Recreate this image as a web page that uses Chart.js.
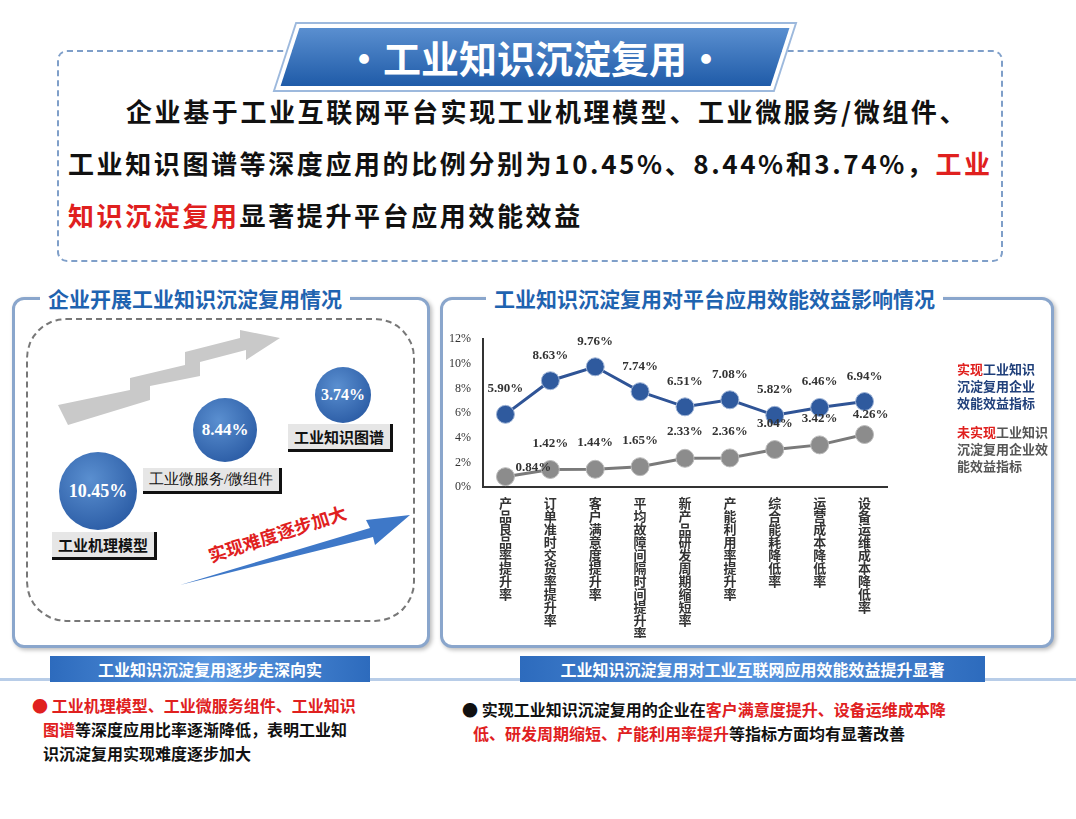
<!DOCTYPE html>
<html><head><meta charset="utf-8">
<script src="https://cdn.jsdelivr.net/npm/chart.js@4/dist/chart.umd.min.js"></script>
<style>
body{margin:0;width:1076px;height:819px;background:#fff;position:relative;overflow:hidden;font-family:"Noto Sans CJK SC",sans-serif;}
.abs{position:absolute;}
.topbox{left:57px;top:50px;width:942px;height:208px;border:2px dashed #7f9fc9;border-radius:10px;}
.banner{left:290px;top:28px;width:490px;height:58px;background:linear-gradient(#5a8fd0,#1f5ba8);transform:skewX(-18deg);box-shadow:0 0 0 4px #fff,0 0 0 6px #9db9dd;}
.bannertxt{left:290px;top:28px;width:490px;height:58px;line-height:58px;text-align:center;color:#fff;font-size:38px;font-weight:bold;}
.para{left:68px;width:930px;font-size:26px;letter-spacing:2.6px;font-weight:bold;color:#111;white-space:nowrap;}
.red{color:#e0201e;}
.panel{border:3px solid #8aa6cc;border-radius:12px;background:#fff;box-shadow:2px 2px 4px #bbb;}
.ptitle{color:#1f63b0;font-size:21px;font-weight:bold;background:#fff;padding:0 8px;}
.circ{border-radius:50%;background:radial-gradient(circle at 40% 35%,#5a8fd0,#1f4f9a);color:#fff;font-family:"Liberation Serif",serif;font-weight:bold;display:flex;align-items:center;justify-content:center;}
.lab{background:#e6e6e6;border-right:3px solid #111;border-bottom:3px solid #111;font-weight:bold;font-size:15px;color:#111;padding:2px 6px;}
.bb{height:26px;line-height:26px;text-align:center;font-size:16px;font-weight:bold;color:#fff;background:linear-gradient(90deg,#2d6bbd,#5a97e0,#2d6bbd);}
.btxt{font-size:16px;font-weight:bold;color:#111;line-height:24px;}
.leg{font-size:13px;line-height:17px;font-weight:bold;}
</style></head><body>
<div class="abs topbox"></div>
<div class="abs banner"></div>
<div class="abs bannertxt">·工业知识沉淀复用·</div>
<div class="abs para" style="top:92px;padding-left:58px">企业基于工业互联网平台实现工业机理模型、工业微服务/微组件、</div>
<div class="abs para" style="top:144px">工业知识图谱等深度应用的比例分别为10.45%、8.44%和3.74%，<span class="red">工业</span></div>
<div class="abs para" style="top:196px"><span class="red">知识沉淀复用</span>显著提升平台应用效能效益</div>

<div class="abs panel" style="left:12px;top:297px;width:412px;height:345px"></div>
<div class="abs ptitle" style="left:40px;top:283px">企业开展工业知识沉淀复用情况</div>
<div class="abs" style="left:26px;top:318px;width:385px;height:300px;border:2px dashed #777;border-radius:40px"></div>
<svg class="abs" style="left:0;top:0" width="440" height="650">
<polygon points="58,405 130,390 130,378 185,365 185,352 240,338 240,330 280,338 246,360 246,350 200,362 200,376 150,386 150,400 68,425" fill="#c9c9c9"/>
<polygon points="180,585 370,528 366,520 410,515 375,545 373,537" fill="#3e78c8"/>
</svg>
<div class="abs" style="left:205px;top:520px;transform:rotate(-18deg);color:#e0201e;font-size:18px;font-weight:bold">实现难度逐步加大</div>
<div id="c1" class="abs circ" style="left:59px;top:452px;width:78px;height:78px;font-size:18px"></div>
<div id="c2" class="abs circ" style="left:193px;top:398px;width:64px;height:64px;font-size:17px"></div>
<div id="c3" class="abs circ" style="left:315px;top:367px;width:56px;height:56px;font-size:16px"></div>
<div id="l1" class="abs lab" style="left:52px;top:532px"></div>
<div id="l2" class="abs lab" style="left:143px;top:468px;font-weight:normal;font-family:'Liberation Serif',serif"></div>
<div id="l3" class="abs lab" style="left:288px;top:424px"></div>

<div class="abs panel" style="left:440px;top:297px;width:608px;height:345px"></div>
<div class="abs ptitle" style="left:486px;top:283px">工业知识沉淀复用对平台应用效能效益影响情况</div>
<div class="abs" style="left:445px;top:328px;width:600px;height:310px"><canvas id="ch"></canvas></div>
<div class="abs leg" style="left:957px;top:360px;color:#1f3f7a"><span class="red">实现</span>工业知识<br>沉淀复用企业<br>效能效益指标</div>
<div class="abs leg" style="left:957px;top:423px;color:#555"><span class="red">未实现</span>工业知识<br>沉淀复用企业效<br>能效益指标</div>

<div class="abs" style="left:0;top:678px;width:1076px;height:3px;background:#b8cde8"></div>
<div class="abs bb" style="left:50px;top:656px;width:320px">工业知识沉淀复用逐步走深向实</div>
<div class="abs bb" style="left:520px;top:656px;width:465px">工业知识沉淀复用对工业互联网应用效能效益提升显著</div>
<div class="abs btxt" style="left:32px;top:693px;width:380px"><span class="red">● 工业机理模型、工业微服务组件、工业知识<br>&nbsp;&nbsp;&nbsp;图谱</span>等深度应用比率逐渐降低，表明工业知<br>&nbsp;&nbsp;&nbsp;识沉淀复用实现难度逐步加大</div>
<div class="abs btxt" style="left:462px;top:697px;width:580px">● 实现工业知识沉淀复用的企业在<span class="red">客户满意度提升、设备运维成本降<br>&nbsp;&nbsp;&nbsp;低、研发周期缩短、产能利用率提升</span>等指标方面均有显著改善</div>

<script>
const appNames=["工业机理模型","工业微服务/微组件","工业知识图谱"];
const appValues=[10.45,8.44,3.74];
const categories=["产品良品率提升率","订单准时交货率提升率","客户满意度提升率","平均故障间隔时间提升率","新产品研发周期缩短率","产能利用率提升率","综合能耗降低率","运营成本降低率","设备运维成本降低率"];
const achieved=[5.90,8.63,9.76,7.74,6.51,7.08,5.82,6.46,6.94];
const notAchieved=[0.84,1.42,1.44,1.65,2.33,2.36,3.04,3.42,4.26];
const yTicks=[0,2,4,6,8,10,12];

["c1","c2","c3"].forEach((id,i)=>document.getElementById(id).textContent=appValues[i].toFixed(2)+"%");
["l1","l2","l3"].forEach((id,i)=>document.getElementById(id).textContent=appNames[i]);

const labelPlugin={id:"lbl",afterDatasetsDraw(chart){
  const ctx=chart.ctx;ctx.save();
  ctx.font="bold 13px 'Liberation Serif',serif";ctx.fillStyle="#333";ctx.textAlign="center";
  const n=chart.data.labels.length;
  chart.data.datasets.forEach((ds,di)=>{
    chart.getDatasetMeta(di).data.forEach((p,i)=>{
      const t=ds.data[i].toFixed(2)+"%";
      if(di===1&&i===0){ctx.textAlign="left";ctx.fillText(t,p.x+10,p.y-6);ctx.textAlign="center";}
      else if(di===1&&i===n-1){ctx.fillText(t,p.x+6,p.y-17);}
      else ctx.fillText(t,p.x,p.y-(di===0?22:23));
    });
  });
  ctx.restore();}};

new Chart(document.getElementById("ch"),{type:"line",
 data:{labels:categories.map(s=>s.split("")),datasets:[
  {data:achieved,borderColor:"#2f5496",backgroundColor:"#2f5a9e",borderWidth:3,pointRadius:9,pointBorderColor:"#9fb4d6",pointBorderWidth:1},
  {data:notAchieved,borderColor:"#7a7a7a",backgroundColor:"#8c8c8c",borderWidth:3,pointRadius:9,pointBorderColor:"#bbb",pointBorderWidth:1}]},
 options:{responsive:true,maintainAspectRatio:false,animation:false,
  layout:{padding:{top:8,right:158,left:0,bottom:0}},
  plugins:{legend:{display:false},tooltip:{enabled:false}},
  scales:{
   x:{offset:true,grid:{display:false,drawTicks:false},border:{color:"#333",width:2},
      ticks:{maxRotation:0,autoSkip:false,padding:10,color:"#333",font:{family:"Noto Sans CJK SC",size:13,weight:"bold",lineHeight:1.0}}},
   y:{min:0,max:12,afterBuildTicks:a=>{a.ticks=yTicks.map(v=>({value:v}));},grid:{display:false},border:{color:"#333",width:2},
      ticks:{callback:v=>v+"%",color:"#333",padding:4,font:{family:"Liberation Serif",size:12}}}}},
 plugins:[labelPlugin]});
</script>
</body></html>
